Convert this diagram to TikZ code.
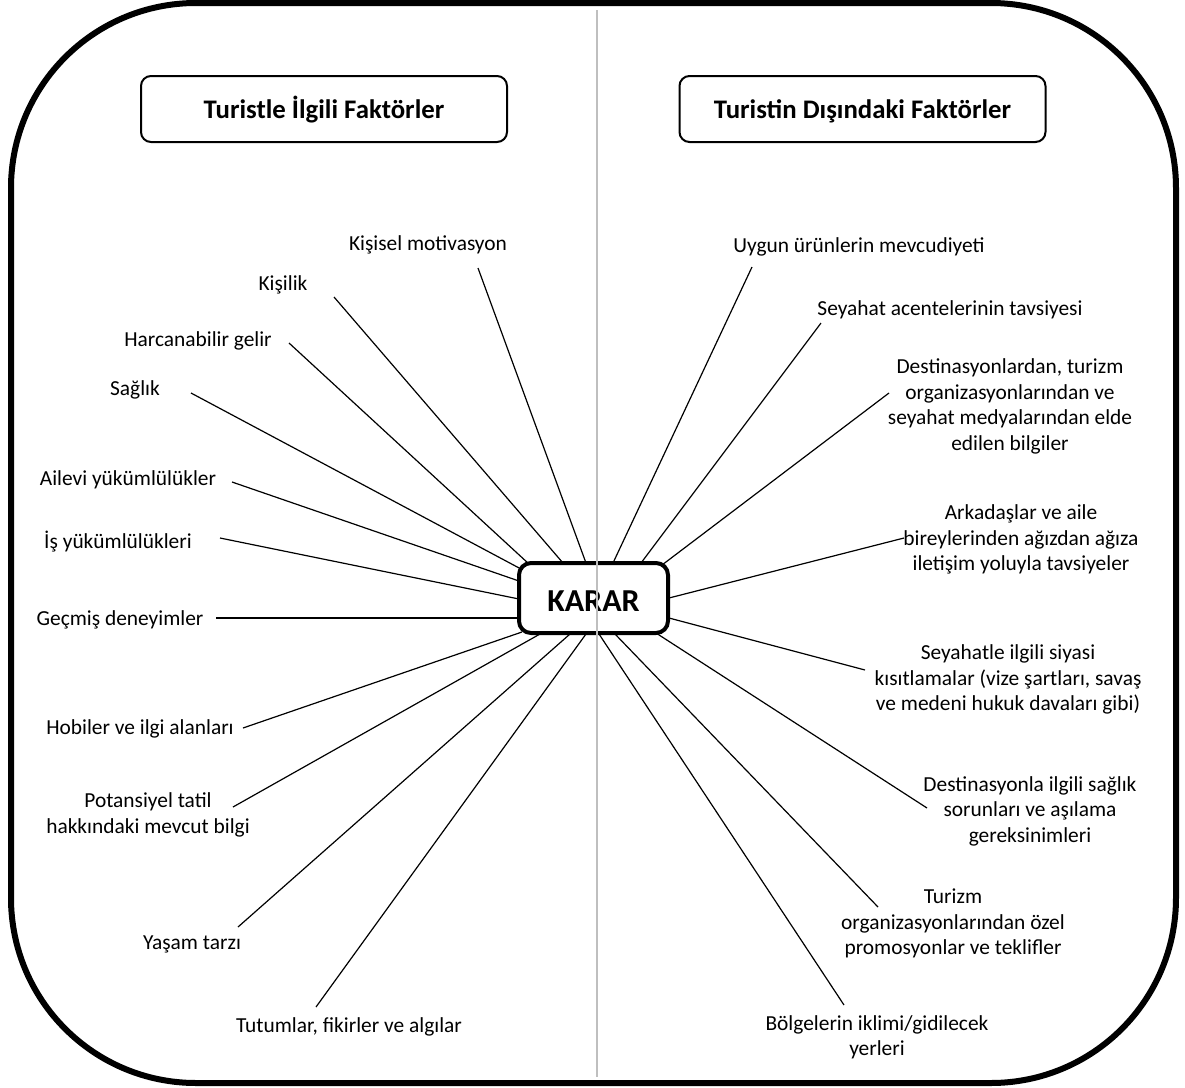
\documentclass[tikz,border=0pt]{standalone}
\usepackage{fontspec}
\setmainfont{Carlito}
\begin{document}
\begin{tikzpicture}[x=0.5pt,y=-0.5pt,
  lbl/.style={font=\fontsize{10.7}{12.75}\selectfont, align=center, inner sep=0pt},
  head/.style={draw, line width=1pt, rounded corners=5pt, minimum width=183pt,
    minimum height=33pt, text height=12.6pt, text depth=3pt,
    font=\fontsize{13.4}{15}\selectfont\bfseries},
  hub/.style={draw, line width=2pt, rounded corners=6pt, minimum width=74.5pt,
    minimum height=35pt, text height=14pt, text depth=1pt,
    font=\fontsize{16}{18}\selectfont\bfseries},
  conn/.style={line width=0.6pt},
  divider/.style={line width=1pt, draw=black!25}]
\useasboundingbox (0,0) rectangle (1185,1088);

% outer frame
\draw[line width=3pt, rounded corners=92.5pt] (11,3) rectangle (1176,1083);

% column headings
\node[head] (hleft) at (324,109) {Turistle İlgili Faktörler};
\node[head] (hright) at (862.5,109) {Turistin Dışındaki Faktörler};

% central decision box
\node[hub] (karar) at (593.5,598) {KARAR};

% factors related to the tourist
\node[lbl] (kisisel) at (428,245) {Kişisel motivasyon};
\node[lbl] (kisilik) at (283,285) {Kişilik};
\node[lbl] (gelir) at (198,341) {Harcanabilir gelir};
\node[lbl] (saglik) at (135,390) {Sağlık};
\node[lbl] (ailevi) at (128,480) {Ailevi yükümlülükler};
\node[lbl] (is) at (118,542) {İş yükümlülükleri};
\node[lbl] (gecmis) at (120,620) {Geçmiş deneyimler};
\node[lbl] (hobi) at (140,729) {Hobiler ve ilgi alanları};
\node[lbl] (potansiyel) at (148,815) {Potansiyel tatil\\hakkındaki mevcut bilgi};
\node[lbl] (yasam) at (192,944) {Yaşam tarzı};
\node[lbl] (tutum) at (349,1027) {Tutumlar, fikirler ve algılar};

% factors external to the tourist
\node[lbl] (uygun) at (859,247) {Uygun ürünlerin mevcudiyeti};
\node[lbl] (acente) at (950,310) {Seyahat acentelerinin tavsiyesi};
\node[lbl] (medya) at (1010,406.5) {Destinasyonlardan, turizm\\organizasyonlarından ve\\seyahat medyalarından elde\\edilen bilgiler};
\node[lbl] (arkadas) at (1021,539.5) {Arkadaşlar ve aile\\bireylerinden ağızdan ağıza\\iletişim yoluyla tavsiyeler};
\node[lbl] (siyasi) at (1008,679.5) {Seyahatle ilgili siyasi\\kısıtlamalar (vize şartları, savaş\\ve medeni hukuk davaları gibi)};
\node[lbl] (asi) at (1030,811) {Destinasyonla ilgili sağlık\\sorunları ve aşılama\\gereksinimleri};
\node[lbl] (promo) at (953,923.5) {Turizm\\organizasyonlarından özel\\promosyonlar ve teklifler};
\node[lbl] (iklim) at (877,1037.5) {Bölgelerin iklimi/gidilecek\\yerleri};

% connector end points on the decision box
\coordinate (k1) at (586,563);
\coordinate (k2) at (563,563);
\coordinate (k3) at (529,564);
\coordinate (k4) at (521,569);
\coordinate (k5) at (519,581);
\coordinate (k6) at (519,599);
\coordinate (k7) at (519,618);
\coordinate (k8) at (522,632);
\coordinate (k9) at (540,634);
\coordinate (k10) at (570,634);
\coordinate (k11) at (586,634);
\coordinate (r1) at (613,563);
\coordinate (r2) at (641,563);
\coordinate (r3) at (662,565);
\coordinate (r4) at (669,598);
\coordinate (r5) at (669,618);
\coordinate (r6) at (656,633);
\coordinate (r7) at (615,634);
\coordinate (r8) at (599,634);

% connector end points next to the labels
\coordinate (kisisel-e) at (478,268);
\coordinate (kisilik-e) at (334,297);
\coordinate (gelir-e) at (289,343);
\coordinate (saglik-e) at (191,393);
\coordinate (ailevi-e) at (232,482);
\coordinate (is-e) at (220,538);
\coordinate (gecmis-e) at (216,618);
\coordinate (hobi-e) at (243,728);
\coordinate (potansiyel-e) at (233,807);
\coordinate (yasam-e) at (238,927);
\coordinate (tutum-e) at (316,1007);
\coordinate (uygun-e) at (752,267);
\coordinate (acente-e) at (821,323);
\coordinate (medya-e) at (889,393);
\coordinate (arkadas-e) at (904,538);
\coordinate (siyasi-e) at (865,670);
\coordinate (asi-e) at (927,808);
\coordinate (promo-e) at (878,907);
\coordinate (iklim-e) at (844,1005);

% spokes
\draw[conn] (k1) -- (kisisel-e);
\draw[conn] (k2) -- (kisilik-e);
\draw[conn] (k3) -- (gelir-e);
\draw[conn] (k4) -- (saglik-e);
\draw[conn] (k5) -- (ailevi-e);
\draw[conn] (k6) -- (is-e);
\draw[conn] (k7) -- (gecmis-e);
\draw[conn] (k8) -- (hobi-e);
\draw[conn] (k9) -- (potansiyel-e);
\draw[conn] (k10) -- (yasam-e);
\draw[conn] (k11) -- (tutum-e);
\draw[conn] (r1) -- (uygun-e);
\draw[conn] (r2) -- (acente-e);
\draw[conn] (r3) -- (medya-e);
\draw[conn] (r4) -- (arkadas-e);
\draw[conn] (r5) -- (siyasi-e);
\draw[conn] (r6) -- (asi-e);
\draw[conn] (r7) -- (promo-e);
\draw[conn] (r8) -- (iklim-e);

% dividing line between the two columns
\coordinate (divtop) at (597,10);
\coordinate (divbot) at (597,1077);
\draw[divider] (divtop) -- (divbot);
\end{tikzpicture}
\end{document}
